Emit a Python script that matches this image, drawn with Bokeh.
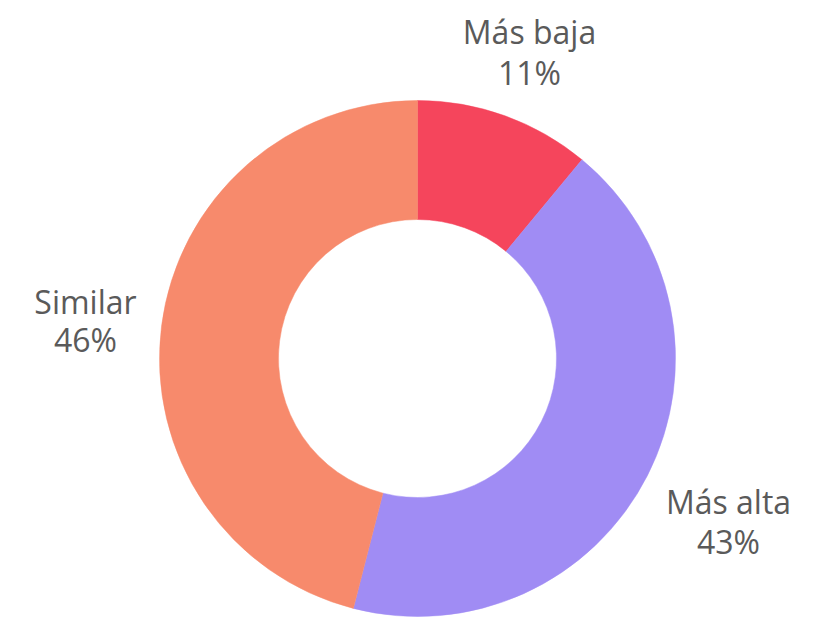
import math
from bokeh.plotting import figure
from bokeh.models import Range1d, ColumnDataSource
from bokeh.core.properties import value
from bokeh.embed import file_html
from bokeh.resources import INLINE

categories = ["Más baja", "Más alta", "Similar"]
values = [11, 43, 46]
colors = ["#F5455C", "#A08CF4", "#F78A6C"]
pct_labels = ["11%", "43%", "46%"]

W, H = 802, 618
SH = 626  # screen height used for coordinate mapping
p = figure(width=W, height=H, output_backend="svg", toolbar_location=None,
           x_range=Range1d(0, W), y_range=Range1d(SH - H, SH), min_border=0)
p.axis.visible = False
p.grid.visible = False
p.outline_line_color = None
p.background_fill_color = "white"

total = sum(values)
starts, ends = [], []
cum = 0.0
for v in values:
    a0 = math.pi / 2 - 2 * math.pi * cum / total
    cum += v
    a1 = math.pi / 2 - 2 * math.pi * cum / total
    starts.append(a0)
    ends.append(a1)

cx, cy = 417, SH - 358
src = ColumnDataSource(dict(start=starts, end=ends, color=colors))
p.annular_wedge(x=cx, y=cy, inner_radius=139, outer_radius=258,
                start_angle="start", end_angle="end", direction="clock",
                fill_color="color", line_color="color", line_width=0.5, source=src)

# label positions (screen coords)
lab_x = [529, 728, 85]
lab_y1 = [31, 501, 301]
lab_y2 = [72, 541, 339]
ts = ColumnDataSource(dict(x=lab_x, y1=[SH - y for y in lab_y1],
                           y2=[SH - y for y in lab_y2],
                           cat=categories, pct=pct_labels))
common = dict(text_font=value("Open Sans"), text_font_size="32px",
              text_color="#5a5a5a", text_align="center", text_baseline="middle")
p.text(x="x", y="y1", text="cat", source=ts, **common)
p.text(x="x", y="y2", text="pct", source=ts, **common)

open("out.html", "w").write(file_html(p, INLINE))
